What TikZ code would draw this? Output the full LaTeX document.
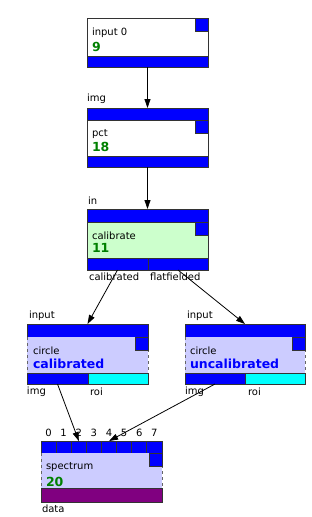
\documentclass[tikz,border=0pt]{standalone}
\usepackage{fontspec}
\setmainfont{DejaVu Sans}
\usetikzlibrary{arrows.meta}
\definecolor{portblue}{RGB}{0,0,255}
\definecolor{portcyan}{RGB}{0,255,255}
\definecolor{calgreen}{RGB}{204,255,204}
\definecolor{circlav}{RGB}{204,204,255}
\definecolor{datapurple}{RGB}{128,0,128}
\definecolor{numgreen}{RGB}{0,128,0}

\begin{document}
\begin{tikzpicture}[x=1pt,y=-1pt,
    every node/.style={inner sep=0pt,outer sep=0pt,font=\fontsize{10}{11}\selectfont},
    bar/.style={draw=black!80,fill=portblue,anchor=north west,line width=0.8pt},
    body/.style={anchor=north west,minimum width=121pt,minimum height=36pt},
    tag/.style={draw=black!80,fill=portblue,anchor=north west,minimum size=13pt,line width=0.8pt},
    lbl/.style={anchor=west},
    num/.style={anchor=west,font=\fontsize{12.5}{14}\bfseries\selectfont,text=numgreen},
    side/.style={draw=black!60,dashed,line width=0.8pt},
    wire/.style={draw,line width=0.8pt,-{Triangle[length=9pt,width=6pt]}}
  ]
    \useasboundingbox (0,0) rectangle (312,517);

    % input 0
    \node[body,draw=black!80,fill=white,minimum height=38pt,line width=0.8pt] (in0) at (87,18) {};
    \node[tag] (in0tag) at (195,18) {};
    \node[bar,minimum width=121pt,minimum height=11pt] (in0out) at (87,56) {};
    \node[lbl] (in0name) at (92,33) {input 0};
    \node[num] (in0num) at (92,47) {9};

    % pct
    \node[lbl] (pctimg) at (87,99) {img};
    \node[bar,minimum width=121pt,minimum height=12pt] (pctin) at (87,108) {};
    \node[body,draw=black!80,fill=white,line width=0.8pt] (pct) at (87,120) {};
    \node[tag] (pcttag) at (195,120) {};
    \node[bar,minimum width=121pt,minimum height=11pt] (pctout) at (87,156) {};
    \node[lbl] (pctname) at (92,134) {pct};
    \node[num] (pctnum) at (92,147) {18};

    % calibrate
    \node[lbl] (calinlbl) at (88,201) {in};
    \node[bar,minimum width=121pt,minimum height=13pt] (calin) at (87,209) {};
    \node[body,draw=black!80,fill=calgreen,line width=0.8pt] (cal) at (87,222) {};
    \node[tag] (caltag) at (195,222) {};
    \node[bar,minimum width=61pt,minimum height=12pt] (calout) at (87,258) {};
    \node[bar,minimum width=60pt,minimum height=12pt] (flatout) at (148,258) {};
    \node[lbl] (calname) at (92,236) {calibrate};
    \node[num] (calnum) at (92,248) {11};
    \node[lbl] (caloutlbl) at (89,277) {calibrated};
    \node[lbl] (flatoutlbl) at (150,277) {flatfielded};

    % circle calibrated
    \node[lbl] (circain) at (29,316) {input};
    \node[bar,minimum width=121pt,minimum height=13pt] (circaport) at (27,324) {};
    \node[body,fill=circlav] (circa) at (27,337) {};
    \draw[side] (circa.north west) -- (circa.south west) (circa.north east) -- (circa.south east);
    \node[tag] (circatag) at (135,337) {};
    \node[bar,minimum width=61pt,minimum height=11pt] (circaimg) at (27,373) {};
    \node[bar,fill=portcyan,minimum width=60pt,minimum height=11pt] (circaroi) at (88,373) {};
    \node[lbl] (circaname) at (33,351) {circle};
    \node[num,text=portblue] (circanum) at (33,364) {calibrated};
    \node[lbl] (circaimglbl) at (27,392) {img};
    \node[lbl] (circaroilbl) at (90,392) {roi};

    % circle uncalibrated
    \node[lbl] (circbin) at (187,316) {input};
    \node[bar,minimum width=120pt,minimum height=13pt] (circbport) at (185,324) {};
    \node[body,fill=circlav,minimum width=120pt] (circb) at (185,337) {};
    \draw[side] (circb.north west) -- (circb.south west) (circb.north east) -- (circb.south east);
    \node[tag] (circbtag) at (292,337) {};
    \node[bar,minimum width=60pt,minimum height=11pt] (circbimg) at (185,373) {};
    \node[bar,fill=portcyan,minimum width=60pt,minimum height=11pt] (circbroi) at (245,373) {};
    \node[lbl] (circbname) at (190,351) {circle};
    \node[num,text=portblue] (circbnum) at (190,364) {uncalibrated};
    \node[lbl] (circbimglbl) at (185,392) {img};
    \node[lbl] (circbroilbl) at (248,392) {roi};

    % spectrum
    \foreach \i in {0,...,7} {
      \node[bar,minimum width=15.125pt,minimum height=12pt] (sp\i) at (41+\i*15.125,441) {};
      \node (sp\i lbl) at (48.5+\i*15.125,433) {\i};
    }
    \node[body,fill=circlav,minimum height=35pt] (spec) at (41,453) {};
    \draw[side] (spec.north west) -- (spec.south west) (spec.north east) -- (spec.south east);
    \node[tag] (spectag) at (149,453) {};
    \node[bar,fill=datapurple,minimum width=121pt,minimum height=14pt] (specout) at (41,488) {};
    \node[lbl] (specname) at (46,467) {spectrum};
    \node[num] (specnum) at (46,482) {20};
    \node[lbl] (specdata) at (42,509) {data};

    \draw[wire] (in0out.south) -- (pctin.north);
    \draw[wire] (pctout.south) -- (calin.north);
    \draw[wire] (calout.south) -- (circaport.north);
    \draw[wire] (flatout.south) -- (circbport.north);
    \draw[wire] (circaimg.south) -- (sp2.north);
    \draw[wire] (circbimg.south) -- (sp4.north);
  \end{tikzpicture}
\end{document}
